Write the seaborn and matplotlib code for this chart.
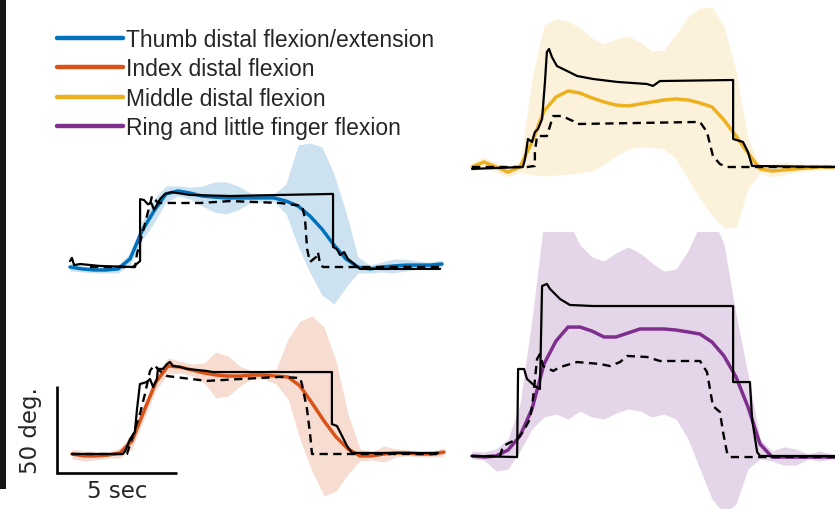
import matplotlib
matplotlib.use("Agg")
import matplotlib.pyplot as plt
from matplotlib.lines import Line2D
from matplotlib.patches import Rectangle
import seaborn as sns

# sample times (s) for the decoded mean and its band
TIME = [0, 0.5, 1, 1.5, 2, 2.5, 3, 3.5, 4, 4.5, 5, 5.5, 6, 6.5, 7, 7.5,
        8, 8.5, 9, 9.5, 10, 10.5, 11, 11.5, 12, 12.5, 13, 13.5, 14, 14.5, 15, 15.5]

LABELS = ["Thumb distal flexion/extension", "Index distal flexion",
          "Middle distal flexion", "Ring and little finger flexion"]
COLORS = ["#0072BD", "#D95319", "#EDB120", "#7E2F8E"]

# thumb (top left), degrees
thumb_mean = [0, -1.1, -1.7, -1.7, -1.1, 4.6, 20.7, 32.2, 42.0, 43.7, 42.5, 40.8, 40.2, 39.7, 39.7, 39.7,
              39.7, 39.7, 37.9, 35.1, 29.3, 21.8, 12.6, 4.6, 0, -1.1, 0, 0.6, 1.1, 1.1, 1.1, 1.7]
thumb_lo = [-2.3, -2.8, -3.4, -3.4, -3.4, 1.2, 15.5, 25.3, 37.4, 40.8, 39.1, 35.1, 31.6, 30.5, 32.8, 36.8,
            37.4, 37.4, 30.5, 12.1, -3.4, -16.1, -21.3, -11.5, -3.4, -3.4, -2.9, -3.4, -2.3, -1.2, -0.6, -0.6]
thumb_hi = [2.3, 0.6, 0, 0, 1.2, 8.0, 25.9, 39.1, 46.6, 46.6, 45.9, 46.5, 48.8, 48.9, 46.6, 42.6,
            42.0, 42.0, 47.7, 70.1, 71.3, 69.0, 53.4, 31.6, 5.7, 1.1, 2.9, 4.6, 4.5, 3.4, 2.8, 4.0]
thumb_solid_t = [0, 0.08, 0.17, 0.42, 1.25, 2.62, 2.92, 2.92, 3.08, 3.25, 3.38, 3.5, 3.62, 3.75, 3.96, 4.25,
                 5.0, 6.67, 8.75, 10.96, 10.96, 11.12, 11.25, 11.42, 11.58, 11.79, 12.08, 13.75, 15.42]
thumb_solid_y = [3.4, 5.2, 1.1, 1.7, 0.6, 0, 3.4, 39, 38.5, 36, 37, 33, 35.6, 39, 42, 43,
                 41.4, 40.8, 41.4, 42, 11.5, 10.3, 6.9, 8.6, 4.6, 2.3, -1.1, -1.1, -1.1]
thumb_dash_t = [0.83, 2.71, 2.79, 3.12, 3.42, 3.67, 5.42, 6.67, 8.75, 9.67, 9.79, 9.88, 10.0, 10.25,
                10.33, 10.42, 10.54, 15.42]
thumb_dash_y = [0, 0, 7.5, 24.7, 40.8, 36.8, 36.8, 37.9, 36.8, 35.1, 28.0, 10.3, 2.9, 5.7,
                8.6, 1.7, 0, 0]

# index (bottom left)
index_mean = [0, -1.1, -1.1, -0.6, 0.6, 7.5, 24.7, 41.4, 50.6, 50.0, 48.3, 46.6, 45.4, 44.8, 44.8, 45.4,
              45.4, 44.8, 44.3, 39.1, 29.3, 19.0, 9.8, 2.9, -1.1, -1.1, 0, 0.6, 0.6, 0, 0, 1.1]
index_lo = [-2.9, -4.0, -3.4, -2.3, -2.3, 2.9, 20.1, 36.8, 46.0, 46.6, 44.9, 40.9, 32.2, 33.3, 39.1, 43.1,
            43.1, 40.2, 31.6, 8.6, -9.8, -24.1, -21.3, -11.5, -4.0, -3.4, -4.6, -1.7, -1.1, -1.7, -1.7, -1.2]
index_hi = [2.9, 1.8, 1.2, 1.1, 3.5, 12.1, 29.3, 46.0, 55.2, 53.4, 51.7, 52.3, 58.6, 56.3, 50.5, 47.7,
            47.7, 48.9, 66.1, 76.4, 79.3, 73.0, 53.4, 23.0, 2.9, 1.2, 4.6, 2.9, 2.3, 1.7, 1.7, 3.4]
index_solid_t = [0, 2.12, 2.21, 2.42, 2.62, 2.71, 2.83, 3.12, 3.25, 3.38, 3.54, 3.58, 3.79, 3.96, 4.08,
                 4.21, 4.5, 4.79, 5.62, 5.88, 10.83, 10.83, 11.04, 11.17, 11.46, 11.67, 15.25]
index_solid_y = [0, 0, 1.7, 8.6, 12.6, 25.9, 40.2, 41.4, 43.1, 38.5, 43.1, 48.9, 48.9, 51.7, 52.9,
                 50.6, 50.0, 48.9, 47.7, 47.1, 47.1, 17.2, 16.1, 12.6, 4.6, 0.6, 0.6]
index_dash_t = [0, 2.29, 2.42, 2.83, 3.04, 3.25, 3.42, 3.67, 3.96, 5.62, 7.0, 8.67, 9.5, 9.58, 9.79,
                9.92, 10.0, 15.25]
index_dash_y = [0, 0, 5.7, 23.0, 34.5, 47.7, 51.1, 47.7, 44.8, 42.0, 43.1, 44.3, 43.7, 40.2, 25.9,
                11.5, 0, 0]

# middle (top right)
middle_mean = [0, 2.9, 0, -2.9, 0, 14.4, 32.2, 40.2, 43.7, 42.5, 39.7, 37.4, 35.6, 35.1, 36.2, 37.4,
               38.5, 39.1, 38.5, 36.8, 34.5, 27.0, 17.8, 8.0, -1.1, -2.3, -1.7, -1.1, -0.6, 0, 0, 0]
middle_lo = [-2.9, 0, -2.9, -5.7, -2.9, -4.6, -5.2, -4.6, -4.0, -3.4, -2.3, 1.7, 6.3, 10.3, 11.5, 11.5,
             10.3, 4.6, -6.9, -18.4, -27.6, -35.1, -34.5, -12.6, -3.4, -5.7, -4.6, -2.9, -2.3, -1.7, -1.7, -1.7]
middle_hi = [2.9, 5.7, 2.9, 0, 2.9, 50.6, 81.6, 85.1, 83.9, 79.9, 74.1, 70.7, 73.6, 75.3, 71.8, 66.7,
             67.2, 76.4, 86.2, 91.4, 92.0, 81.0, 55.2, 16.1, 1.1, 1.7, 2.9, 1.7, 1.7, 1.7, 1.7, 1.7]
middle_solid_t = [0, 2.12, 2.21, 2.33, 2.5, 2.62, 2.75, 2.92, 3.04, 3.12, 3.21, 3.33, 3.54, 3.96, 4.38,
                  5.04, 6.04, 7.29, 7.54, 7.83, 10.88, 10.88, 11.29, 11.5, 11.67, 15.12]
middle_solid_y = [-1.1, 0, 4.6, 16.1, 14.4, 20.1, 21.8, 27.6, 48.9, 66.1, 67.8, 63.2, 58.0, 55.2, 52.3,
                  50.6, 48.9, 47.7, 46.6, 49.4, 50.0, 16.1, 14.4, 8.6, 0.6, 0]
middle_dash_t = [0, 2.29, 2.62, 2.62, 2.71, 3.12, 3.25, 3.38, 3.75, 4.21, 4.38, 9.5, 9.79, 10.04,
                 10.33, 10.62, 15.12]
middle_dash_y = [0, 0, 0.6, 8.6, 17.8, 17.8, 23.6, 29.3, 29.3, 26.4, 24.7, 25.9, 20.1, 6.3,
                 1.7, 0, 0]

# ring and little (bottom right)
ring_mean = [0, -0.6, 0, 3.4, 11.5, 27.0, 52.9, 66.1, 74.1, 74.1, 71.8, 68.4, 68.4, 70.7, 73.0, 73.0,
             73.0, 72.4, 71.3, 70.1, 65.5, 57.5, 45.4, 28.2, 6.9, -0.6, -0.6, -0.6, -0.6, -0.6, -0.6, -0.6]
ring_lo = [-1.7, -2.3, -8.6, -7.5, 2.9, 15.5, 22.4, 24.1, 21.3, 25.9, 22.4, 21.3, 24.7, 27.0, 25.9, 22.4,
           24.1, 21.3, 9.8, -7.5, -24.7, -33.3, -27.6, -7.5, -1.7, -2.9, -5.2, -5.2, -1.7, -2.9, -1.7, -1.1]
ring_hi = [2.9, 2.3, 4.0, 9.8, 29.9, 78.7, 135.1, 139.1, 135.1, 121.3, 114.4, 112.1, 116.7, 120.1, 116.7, 110.9,
           106.3, 107.5, 117.8, 133.3, 137.4, 121.8, 81.6, 47.1, 9.8, 2.9, 5.2, 4.0, 1.1, 2.9, 1.1, 0.6]
ring_solid_t = [0, 1.88, 1.92, 2.17, 2.29, 2.62, 2.83, 2.92, 3.12, 3.25, 3.67, 4.08, 5.04, 10.88, 10.88,
                11.58, 11.67, 11.88, 12.0, 15.12]
ring_solid_y = [0, -0.6, 50.0, 50.0, 44.3, 40.2, 38.5, 97.7, 98.9, 96.0, 90.2, 86.8, 86.2, 86.2, 42.5,
                42.5, 21.3, 2.3, 0, 0]
ring_dash_t = [0, 1.17, 1.29, 1.88, 2.12, 2.42, 2.54, 2.71, 2.83, 2.96, 3.38, 3.67, 4.38, 5.33, 5.75,
               6.17, 6.46, 7.29, 7.83, 9.5, 9.79, 10.04, 10.33, 10.46, 10.62, 10.75, 15.12]
ring_dash_y = [0, 0, 5.7, 9.8, 13.8, 21.3, 32.8, 55.7, 58.6, 51.7, 48.9, 51.1, 54.0, 52.9, 51.7,
               54.0, 57.5, 56.9, 54.6, 54.6, 48.3, 28.7, 25.3, 13.8, 2.3, -0.6, -0.6]

# scale bar
SCALE_SEC = 5
SCALE_DEG = 50

W, H = 835, 510
PX_PER_SEC = 24.0
PX_PER_DEG = 87 / 50

sns.set_style("white")
plt.rcParams["font.family"] = ["DejaVu Sans"]


def panel(fig, box, origin):
    # box = left, right, top, bottom in pixels; origin = pixel of t=0, 0 deg
    left, right, top, bottom = box
    x0, y0 = origin
    ax = fig.add_axes([left / W, 1 - bottom / H, (right - left) / W, (bottom - top) / H])
    ax.set_axis_off()
    ax.patch.set_alpha(0)
    lims = ((left - x0) / PX_PER_SEC, (right - x0) / PX_PER_SEC,
            (y0 - bottom) / PX_PER_DEG, (y0 - top) / PX_PER_DEG)
    return ax, lims


def draw(ax, lims, color, mean, lo, hi, solid_t, solid_y, dash_t, dash_y, alpha):
    ax.fill_between(TIME, lo, hi, color=color, alpha=alpha, lw=0)
    sns.lineplot(x=TIME, y=mean, ax=ax, color=color, lw=2.5,
                 sort=False, estimator=None, legend=False)
    sns.lineplot(x=dash_t, y=dash_y, ax=ax, color="black", lw=1.7, linestyle=(0, (3.5, 2.3)),
                 sort=False, estimator=None, legend=False)
    sns.lineplot(x=solid_t, y=solid_y, ax=ax, color="black", lw=1.6,
                 sort=False, estimator=None, legend=False)
    ax.set_xlim(lims[0], lims[1])
    ax.set_ylim(lims[2], lims[3])
    ax.set_axis_off()


fig = plt.figure(figsize=(W / 100, H / 100), dpi=100)

ax_tl, lim_tl = panel(fig, (20, 455, 130, 320), (70, 268))
ax_bl, lim_bl = panel(fig, (0, 455, 300, 510), (72, 455))
ax_tr, lim_tr = panel(fig, (462, 835, 0, 233), (472, 168))
ax_br, lim_br = panel(fig, (462, 835, 233, 510), (472, 457))

draw(ax_tl, lim_tl, COLORS[0], thumb_mean, thumb_lo, thumb_hi,
     thumb_solid_t, thumb_solid_y, thumb_dash_t, thumb_dash_y, 0.2)
draw(ax_bl, lim_bl, COLORS[1], index_mean, index_lo, index_hi,
     index_solid_t, index_solid_y, index_dash_t, index_dash_y, 0.2)
draw(ax_tr, lim_tr, COLORS[2], middle_mean, middle_lo, middle_hi,
     middle_solid_t, middle_solid_y, middle_dash_t, middle_dash_y, 0.16)
draw(ax_br, lim_br, COLORS[3], ring_mean, ring_lo, ring_hi,
     ring_solid_t, ring_solid_y, ring_dash_t, ring_dash_y, 0.2)

# scale bar in the index panel
cx, cy = -0.625, -10.9
ax_bl.plot([cx, cx, cx + SCALE_SEC], [cy + SCALE_DEG, cy, cy], color="black", lw=1.9,
           solid_joinstyle="miter", solid_capstyle="butt", clip_on=False)
ax_bl.text(cx + SCALE_SEC / 2, cy - 9.8, f"{SCALE_SEC} sec", ha="center", va="center", fontsize=16.5)
ax_bl.text(-1.72, cy + SCALE_DEG / 2, f"{SCALE_DEG} deg.", ha="center", va="center",
           rotation=90, fontsize=16.5)

handles = [Line2D([], [], color=c, lw=3.2) for c in COLORS]
fig.legend(handles, LABELS, loc="upper left", bbox_to_anchor=(57 / W, 1 - 29 / H),
           frameon=False, borderpad=0, borderaxespad=0, handlelength=2.9, handletextpad=0.12,
           labelspacing=0.28, prop={"family": "Liberation Sans", "size": 16.5})

# dark strip at the left edge of the original screenshot
fig.add_artist(Rectangle((0, 1 - 490 / H), 6 / W, 490 / H, transform=fig.transFigure,
                         facecolor="#151515", edgecolor="none"))

fig.savefig("out.png", dpi=100)
